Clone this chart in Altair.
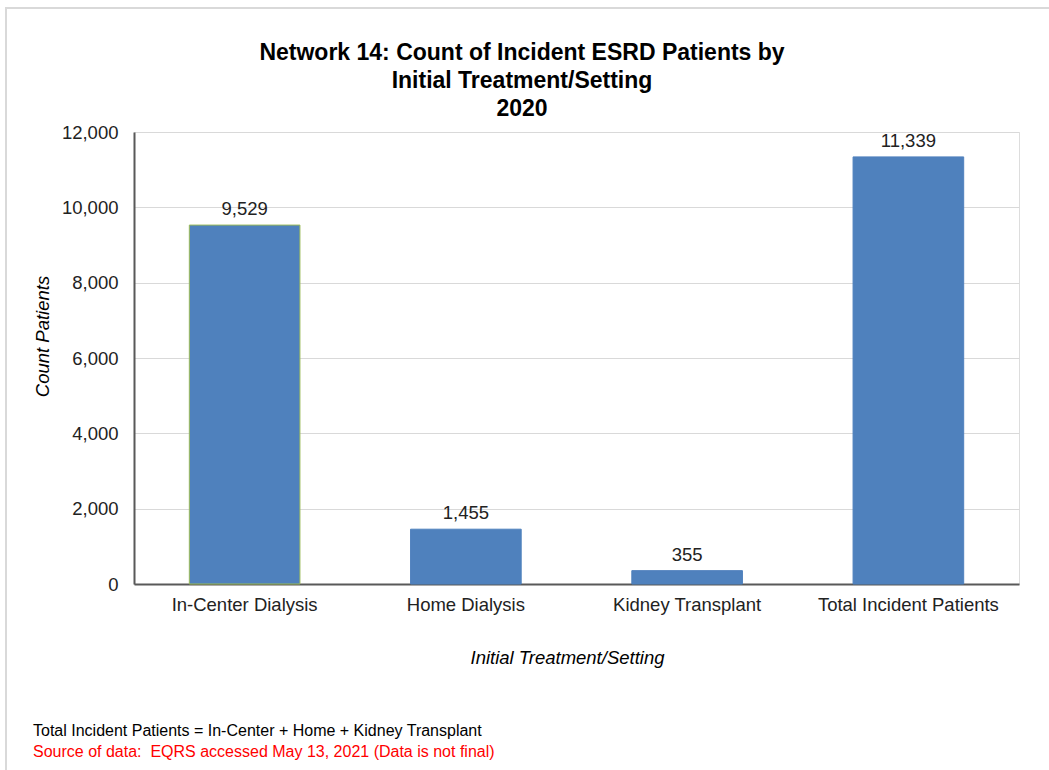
import altair as alt
import pandas as pd

# Incident ESRD patients by initial treatment setting, Network 14, 2020
categories = ["In-Center Dialysis", "Home Dialysis", "Kidney Transplant", "Total Incident Patients"]
counts = [9529, 1455, 355, 11339]
y_ticks = [0, 2000, 4000, 6000, 8000, 10000, 12000]
title_lines = ["Network 14: Count of Incident ESRD Patients by",
               "Initial Treatment/Setting", "2020"]
footnote = "Total Incident Patients = In-Center + Home + Kidney Transplant"
source_note = "Source of data:\u00a0 EQRS accessed May 13, 2021 (Data is not final)"

df = pd.DataFrame({"setting": categories, "count": counts})
one = pd.DataFrame({"k": [0]})

FONT = "Liberation Sans, Arial, sans-serif"
BLUE = "#4F81BD"
LABEL_SIZE = 18.5
W, H = 885, 452
PAD_L, PAD_T = 134, 132

x_enc = alt.X(
    "setting:N",
    sort=categories,
    scale=alt.Scale(paddingInner=0.5, paddingOuter=0.25),
    axis=alt.Axis(
        title="Initial Treatment/Setting",
        titleFont=FONT, titleFontSize=LABEL_SIZE, titleFontStyle="italic",
        titleFontWeight="normal", titleColor="#000000",
        titleX=433, titleY=73, titleBaseline="middle",
        labelFont=FONT, labelFontSize=LABEL_SIZE, labelColor="#222222",
        labelAngle=0, labelPadding=11, labelLimit=400,
        ticks=False, domainColor="#595959", domainWidth=2,
    ),
)

y_enc = alt.Y(
    "count:Q",
    scale=alt.Scale(domain=[0, 12000], nice=False),
    axis=alt.Axis(
        title="Count Patients",
        titleFont=FONT, titleFontSize=LABEL_SIZE, titleFontStyle="italic",
        titleFontWeight="normal", titleColor="#000000",
        titleX=-92, titleY=204, titleAngle=-90, titleBaseline="middle",
        labelFont=FONT, labelFontSize=LABEL_SIZE, labelColor="#222222",
        labelPadding=16, ticks=False,
        values=y_ticks, format=",.0f",
        grid=True, gridColor="#D9D9D9", gridWidth=1,
        domainColor="#595959", domainWidth=2,
    ),
)

base = alt.Chart(df)

bars = base.mark_bar(color=BLUE).encode(
    x=x_enc,
    y=y_enc,
    stroke=alt.condition(
        alt.datum.setting == "In-Center Dialysis",
        alt.value("#9BBB59"),
        alt.value(BLUE),
    ),
    strokeWidth=alt.value(1),
)

labels = base.mark_text(
    font=FONT, fontSize=LABEL_SIZE, color="#222222", baseline="bottom", dy=-6
).encode(
    x=alt.X("setting:N", sort=categories),
    y="count:Q",
    text=alt.Text("count:Q", format=",.0f"),
)

# outer frame around the whole figure
frame = alt.Chart(one).mark_rect(
    fill=None, stroke="#D9D9D9", strokeWidth=2
).encode(
    x=alt.value(6 - PAD_L), x2=alt.value(1060 - PAD_L),
    y=alt.value(8 - PAD_T), y2=alt.value(780 - PAD_T),
)

# three-line bold heading, centred over the whole figure
heading = alt.Chart(one).mark_text(
    text=title_lines, font=FONT, fontSize=23, fontWeight="bold", color="#000000",
    align="center", baseline="middle", lineHeight=28,
).encode(x=alt.value(522 - PAD_L), y=alt.value(53 - PAD_T))

note_black = alt.Chart(one).mark_text(
    text=footnote, font=FONT, fontSize=16, color="#000000", align="left", baseline="middle"
).encode(x=alt.value(33 - PAD_L), y=alt.value(731 - PAD_T))
note_red = alt.Chart(one).mark_text(
    text=source_note, font=FONT, fontSize=16, color="#FF0000", align="left", baseline="middle"
).encode(x=alt.value(33 - PAD_L), y=alt.value(752 - PAD_T))

chart = alt.layer(frame, bars, labels, heading, note_black, note_red).properties(
    width=W,
    height=H,
    autosize=alt.AutoSizeParams(type="none"),
    padding={"left": PAD_L, "top": PAD_T, "right": 1049 - PAD_L - W, "bottom": 770 - PAD_T - H},
).configure_view(stroke=None).configure(background="#FFFFFF")

chart.save("out.html", embed_options={"renderer": "svg", "actions": False})
